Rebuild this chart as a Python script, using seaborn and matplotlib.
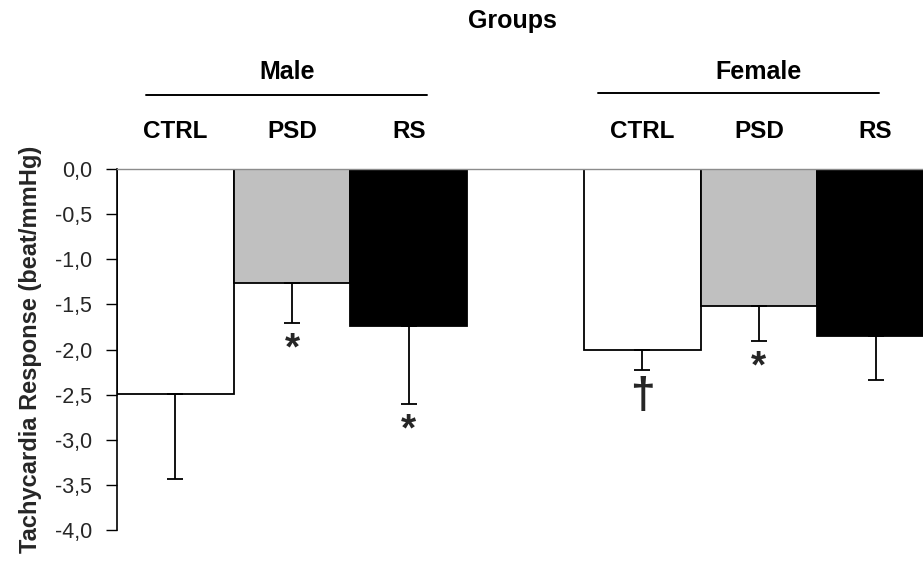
import matplotlib
matplotlib.use("Agg")
import matplotlib.pyplot as plt
import matplotlib.transforms as mtransforms
from matplotlib.lines import Line2D
import seaborn as sns
import pandas as pd

# Baroreflex tachycardia response by sex and treatment group
sexes = ["Male", "Male", "Male", "Female", "Female", "Female"]
treatments = ["CTRL", "PSD", "RS", "CTRL", "PSD", "RS"]
means = [-2.49, -1.26, -1.74, -2.00, -1.52, -1.85]
sems = [0.94, 0.45, 0.86, 0.23, 0.39, 0.49]
marks = ["", "*", "*", "\u2020", "*", ""]
fills = ["#ffffff", "#c0c0c0", "#000000", "#ffffff", "#c0c0c0", "#000000"]
y_ticks = [0.0, -0.5, -1.0, -1.5, -2.0, -2.5, -3.0, -3.5, -4.0]

slots = [f"{s}-{t}" for s, t in zip(sexes, treatments)]
order = slots[:3] + ["gap"] + slots[3:]
df = pd.DataFrame({"slot": slots, "value": means})
palette = dict(zip(slots, fills))

sns.set_theme(style="white")
plt.rcParams["font.family"] = ["Liberation Sans", "DejaVu Sans"]

fig = plt.figure(figsize=(9.23, 5.69), dpi=100)
ax = fig.add_axes([0.1268, 0.0685, 1 - 0.1268, 0.703 - 0.0685])

sns.barplot(data=df, x="slot", y="value", hue="slot", order=order,
            palette=palette, width=1.0, errorbar=None, legend=False,
            edgecolor="black", linewidth=1.3, ax=ax)

pos = [order.index(s) for s in slots]
ax.errorbar(pos, means, yerr=[sems, [0] * len(sems)], fmt="none",
            ecolor="black", elinewidth=1.3, capsize=5.5, capthick=1.3)

for x, m, e, mk in zip(pos, means, sems, marks):
    if not mk:
        continue
    if mk == "*":
        ax.annotate(mk, (x, m - e), xytext=(0, -6), textcoords="offset points",
                    ha="center", va="top", fontsize=28, fontweight="bold")
    else:
        ax.annotate(mk, (x, m - e), xytext=(0, -4), textcoords="offset points",
                    ha="center", va="top", fontsize=32, fontweight="bold")

ax.set_xlim(-0.5, (923 - 117) / 116.7 - 0.5)
ax.set_ylim(-4.0, 0.0)
ax.set_yticks(y_ticks)
ax.set_yticklabels([f"{v:.1f}".replace(".", ",") for v in y_ticks], fontsize=15.5)
ax.tick_params(axis="y", direction="out", length=8, width=1, color="black",
               left=True, pad=10)
ax.set_xticks([])
ax.set_xlabel("")
ax.set_ylabel("Tachycardia Response (beat/mmHg)", fontsize=17,
              fontweight="bold", labelpad=9)

for side in ["right", "bottom"]:
    ax.spines[side].set_visible(False)
ax.spines["left"].set_color("black")
ax.spines["left"].set_linewidth(1.2)
ax.spines["top"].set_color("#8c8c8c")
ax.spines["top"].set_linewidth(1.0)

# group headings above the bars
trans = mtransforms.blended_transform_factory(ax.transData, fig.transFigure)
for x, t in zip(pos, treatments):
    ax.text(x, 0.769, t, transform=trans, ha="center", va="center",
            fontsize=17.5, fontweight="bold", color="black")

# heading offsets and rule extents for each sex (in bar widths)
heading_style = {"Male": (-0.04, -1.25, 1.16, 0.833),
                 "Female": (0.0, -1.38, 1.03, 0.836)}
for sex in ["Male", "Female"]:
    p = [order.index(s) for s, sx in zip(slots, sexes) if sx == sex]
    c = sum(p) / len(p)
    dx, l0, l1, ly = heading_style[sex]
    ax.text(c + dx, 0.873, sex, transform=trans, ha="center", va="center",
            fontsize=18, fontweight="bold", color="black")
    ax.add_line(Line2D([c + l0, c + l1], [ly, ly], transform=trans,
                       color="black", linewidth=1.4, clip_on=False))

fig.text(0.555, 0.963, "Groups", ha="center", va="center",
         fontsize=18, fontweight="bold", color="black")

fig.savefig("out.png", dpi=100)
